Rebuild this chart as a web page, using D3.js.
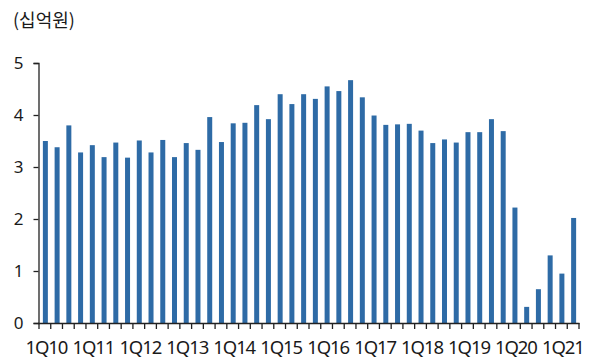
<!DOCTYPE html>
<html>
<head>
<meta charset="utf-8">
<script src="https://cdn.jsdelivr.net/npm/d3@7/dist/d3.min.js"></script>
<style>
  body { margin: 0; background: #fff; }
  text { font-family: "Noto Sans", "Noto Sans CJK KR", sans-serif; fill: #1a1a1a; }
</style>
</head>
<body>
<svg id="chart" width="590" height="359"></svg>
<script>
// Quarterly values, 1Q10 .. 2Q21 (십억원)
const years = ["10","11","12","13","14","15","16","17","18","19","20","21"];
const quarters = [];
years.forEach(y => [1,2,3,4].forEach(q => quarters.push(q + "Q" + y)));
const categories = quarters.slice(0, 46);

const values = [
  3.50, 3.38, 3.80, 3.28, 3.42, 3.19, 3.47, 3.18,
  3.51, 3.28, 3.52, 3.19, 3.46, 3.33, 3.96, 3.48,
  3.84, 3.85, 4.19, 3.92, 4.40, 4.21, 4.40, 4.31,
  4.55, 4.46, 4.67, 4.34, 3.99, 3.81, 3.82, 3.83,
  3.70, 3.46, 3.53, 3.47, 3.67, 3.67, 3.92, 3.69,
  2.22, 0.31, 0.65, 1.30, 0.95, 2.02
];

const yTicks = [0, 1, 2, 3, 4, 5];
const xLabels = categories.filter(c => c.startsWith("1Q"));
const unitLabel = "(십억원)";

const svg = d3.select("#chart");
const plotLeft = 39, plotRight = 579, plotTop = 63, plotBottom = 323;

const x = d3.scaleBand().domain(categories).range([plotLeft, plotRight]).paddingInner(0).paddingOuter(0);
const y = d3.scaleLinear().domain([0, 5]).range([plotBottom, plotTop]);

const barW = 5;

// bars
svg.append("g").selectAll("rect")
  .data(values)
  .join("rect")
  .attr("x", (d, i) => x(categories[i]) + x.bandwidth() / 2 - barW / 2 + 0.5)
  .attr("y", d => y(d))
  .attr("width", barW)
  .attr("height", d => y(0) - y(d))
  .attr("fill", "#2e6ba6");

// y axis
const yAxis = svg.append("g")
  .attr("transform", `translate(${plotLeft - 0.5},0)`)
  .call(d3.axisLeft(y).tickValues(yTicks).tickSize(5).tickPadding(10).tickFormat(d3.format("d")));
yAxis.select(".domain").attr("stroke", "#222").attr("stroke-width", 1.3);
yAxis.selectAll(".tick line").attr("stroke", "#222").attr("stroke-width", 1.3);
yAxis.selectAll("text").attr("font-size", 17).attr("fill", "#1a1a1a")
  .style("font-family", "'Noto Sans', sans-serif");

// x axis: ticks at every category boundary
const boundaries = d3.range(categories.length + 1).map(i => plotLeft + i * x.bandwidth());
const xg = svg.append("g");
xg.append("line")
  .attr("x1", plotLeft - 1).attr("x2", plotRight + 0.5)
  .attr("y1", plotBottom + 0.5).attr("y2", plotBottom + 0.5)
  .attr("stroke", "#222").attr("stroke-width", 1.3);
xg.selectAll("line.tick")
  .data(boundaries)
  .join("line")
  .attr("class", "tick")
  .attr("x1", d => d).attr("x2", d => d)
  .attr("y1", plotBottom).attr("y2", plotBottom + 6)
  .attr("stroke", "#222").attr("stroke-width", 1.3);
xg.selectAll("text")
  .data(xLabels)
  .join("text")
  .attr("x", d => x(d) + x.bandwidth() / 2 + 1.5)
  .attr("y", 354)
  .attr("text-anchor", "middle")
  .attr("font-size", 18.5)
  .attr("letter-spacing", -1.1)
  .text(d => d);

// unit label
svg.append("text")
  .attr("x", 13).attr("y", 27)
  .attr("font-size", 18)
  .style("font-family", "'Noto Sans CJK KR', sans-serif")
  .text(unitLabel);
</script>
</body>
</html>
